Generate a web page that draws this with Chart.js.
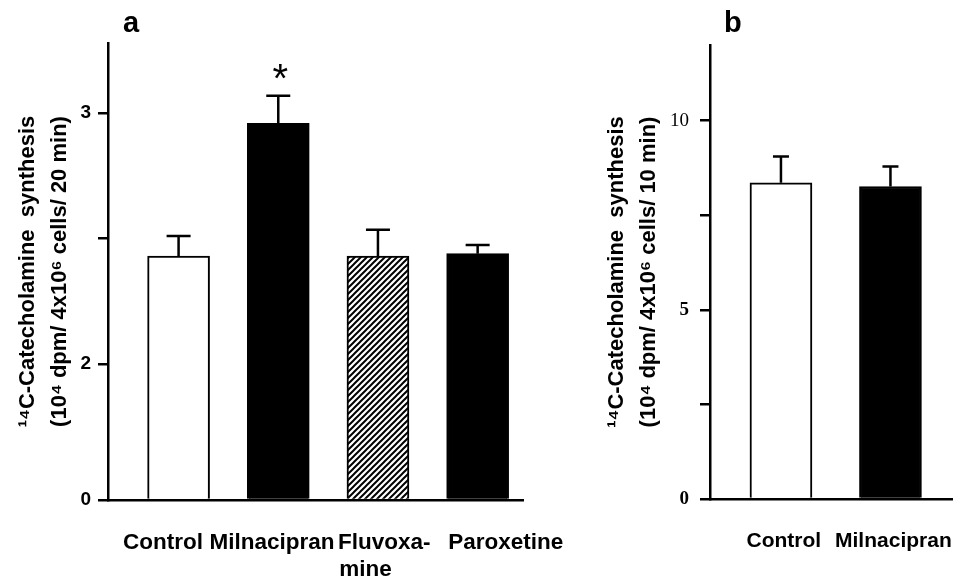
<!DOCTYPE html>
<html>
<head>
<meta charset="utf-8">
<script src="https://cdn.jsdelivr.net/npm/chart.js@4.4.1/dist/chart.umd.min.js"></script>
<style>
  body { margin: 0; background: #fff; width: 974px; height: 582px; overflow: hidden; position: relative;
         font-family: "Liberation Sans", Arial, sans-serif; }
  .box { position: absolute; top: 0; height: 582px; }
  #boxA { left: 0; width: 600px; }
  #boxB { left: 600px; width: 374px; }
  .tag { position: absolute; font-weight: bold; font-size: 29px; line-height: 1; }
</style>
</head>
<body>
<div class="box" id="boxA"><canvas id="chartA"></canvas></div>
<div class="box" id="boxB"><canvas id="chartB"></canvas></div>
<div class="tag" style="left:123px;top:8px">a</div>
<div class="tag" style="left:724px;top:8px">b</div>
<script>
// panel a
const categoriesA = ['Control', 'Milnacipran', ['Fluvoxa-', 'mine'], 'Paroxetine'];
const meansA = [2.43, 2.96, 2.43, 2.44];
const errorTopsA = [2.51, 3.07, 2.535, 2.475];
const significanceA = ['', '*', '', ''];
const yTicksA = [0, 2, 2.5, 3];

// panel b
const categoriesB = ['Control', 'Milnacipran'];
const meansB = [8.36, 8.26];
const errorTopsB = [9.05, 8.79];
const yTicksB = [0, 2.5, 5, 7.5, 10];

// label nudges in spaces (+ = pad left, - = pad right), per line
const nudgeA = [[-5], [-2], [2, -4], [9]];
const nudgeB = [[1], [1]];

Chart.defaults.font.family = '"Liberation Sans", Arial, sans-serif';
Chart.defaults.color = '#000';

// y axis of panel a is broken: 0-2 squeezed into the bottom part
class BrokenScale extends Chart.LinearScale {
  static id = 'broken';
  static defaults = Chart.LinearScale.defaults;
  getPixelForValue(v) {
    if (v === null || isNaN(v)) return NaN;
    const b = this.options.breakAt, f = this.options.breakFrac;
    const d = v <= b ? (v - this.min) / (b - this.min) * f
                     : f + (v - b) / (this.max - b) * (1 - f);
    return this.getPixelForDecimal(d);
  }
  getValueForPixel(p) {
    const b = this.options.breakAt, f = this.options.breakFrac;
    const d = this.getDecimalForPixel(p);
    return d <= f ? this.min + d / f * (b - this.min) : b + (d - f) / (1 - f) * (this.max - b);
  }
}
Chart.register(BrokenScale);

function nudge(label, shifts) {
  const lines = Array.isArray(label) ? label : [label];
  const out = lines.map((t, i) => {
    const n = shifts[i] || 0;
    return n > 0 ? ' '.repeat(n) + t : t + ' '.repeat(-n);
  });
  return out.length === 1 ? out[0] : out;
}

function hatch() {
  const c = document.createElement('canvas');
  c.width = c.height = 6;
  const g = c.getContext('2d');
  g.fillStyle = '#fff';
  g.fillRect(0, 0, 6, 6);
  g.strokeStyle = '#000';
  g.lineWidth = 2;
  g.beginPath();
  g.moveTo(0, 6); g.lineTo(6, 0);
  g.moveTo(-3, 3); g.lineTo(3, -3);
  g.moveTo(3, 9); g.lineTo(9, 3);
  g.stroke();
  return g.createPattern(c, 'repeat');
}

function errorBars(tops, cap, marks) {
  return {
    id: 'errorBars',
    afterDatasetsDraw(chart) {
      const ctx = chart.ctx;
      const y = chart.scales.y;
      ctx.save();
      ctx.strokeStyle = '#000';
      ctx.lineWidth = 2.5;
      chart.getDatasetMeta(0).data.forEach((bar, i) => {
        const top = y.getPixelForValue(tops[i]);
        ctx.beginPath();
        ctx.moveTo(bar.x, bar.y);
        ctx.lineTo(bar.x, top);
        ctx.moveTo(bar.x - cap / 2, top);
        ctx.lineTo(bar.x + cap / 2, top);
        ctx.stroke();
        if (marks && marks[i]) {
          ctx.fillStyle = '#000';
          ctx.font = '40px "Liberation Sans", Arial, sans-serif';
          ctx.textAlign = 'center';
          ctx.textBaseline = 'alphabetic';
          ctx.fillText(marks[i], bar.x + 2, top - 4);
        }
      });
      ctx.restore();
    }
  };
}

const titleFont = { size: 22, weight: 'bold', lineHeight: 1.45 };
const xFit = h => s => { s.height = h; s.paddingLeft = 0; s.paddingRight = 0; };

new Chart(document.getElementById('chartA'), {
  type: 'bar',
  data: {
    datasets: [{
      data: meansA.map((v, i) => ({ x: i, y: v })),
      backgroundColor: ['#fff', '#000', hatch(), '#000'],
      borderColor: '#000',
      borderWidth: 2,
      barThickness: 62
    }]
  },
  options: {
    responsive: true,
    maintainAspectRatio: false,
    animation: false,
    layout: { padding: { top: 43, right: 77, left: 0, bottom: 0 } },
    plugins: { legend: { display: false }, tooltip: { enabled: false } },
    scales: {
      x: {
        type: 'linear', min: -0.708, max: 3.455, offset: false,
        afterBuildTicks: s => { s.ticks = categoriesA.map((_, i) => ({ value: i })); },
        afterFit: xFit(82),
        grid: { display: false, drawTicks: false, offset: false },
        border: { color: '#000', width: 2.5 },
        ticks: { autoSkip: false, maxRotation: 0, padding: 29, color: '#000',
                 font: { size: 22.5, weight: 'bold', lineHeight: 1.2 },
                 callback: v => nudge(categoriesA[v], nudgeA[v]) }
      },
      y: {
        type: 'broken', min: 0, max: 3.28, breakAt: 2, breakFrac: 0.2976,
        afterBuildTicks: s => { s.ticks = yTicksA.map(v => ({ value: v })); },
        afterFit: s => { s.width = 108; },
        grid: { drawOnChartArea: false, drawTicks: true, tickLength: 10, color: '#000', lineWidth: 2.5 },
        border: { color: '#000', width: 2.5 },
        ticks: { autoSkip: false, padding: 7, color: '#000', font: { size: 19, weight: 'bold' },
                 callback: v => (v === 2.5 ? '' : v) },
        title: { display: true, color: '#000', font: titleFont, padding: { top: 12, bottom: 0 },
                 text: ['¹⁴C-Catecholamine  synthesis', '(10⁴ dpm/ 4x10⁶ cells/ 20 min)'] }
      }
    }
  },
  plugins: [errorBars(errorTopsA, 24, significanceA)]
});

new Chart(document.getElementById('chartB'), {
  type: 'bar',
  data: {
    datasets: [{
      data: meansB.map((v, i) => ({ x: i, y: v })),
      backgroundColor: ['#fff', '#000'],
      borderColor: '#000',
      borderWidth: 2,
      barThickness: 62
    }]
  },
  options: {
    responsive: true,
    maintainAspectRatio: false,
    animation: false,
    layout: { padding: { top: 45, right: 22, left: 0, bottom: 0 } },
    plugins: { legend: { display: false }, tooltip: { enabled: false } },
    scales: {
      x: {
        type: 'linear', min: -0.648, max: 1.562, offset: false,
        afterBuildTicks: s => { s.ticks = categoriesB.map((_, i) => ({ value: i })); },
        afterFit: xFit(83),
        grid: { display: false, drawTicks: false, offset: false },
        border: { color: '#000', width: 2.5 },
        ticks: { autoSkip: false, maxRotation: 0, padding: 30, color: '#000',
                 font: { size: 21, weight: 'bold' },
                 callback: v => nudge(categoriesB[v], nudgeB[v]) }
      },
      y: {
        type: 'linear', min: 0, max: 12,
        afterBuildTicks: s => { s.ticks = yTicksB.map(v => ({ value: v })); },
        afterFit: s => { s.width = 110; },
        grid: { drawOnChartArea: false, drawTicks: true, tickLength: 10, color: '#000', lineWidth: 2.5 },
        border: { color: '#000', width: 2.5 },
        ticks: { autoSkip: false, padding: 11, color: '#000',
                 font: c => ({ family: '"Liberation Serif", serif', size: 19,
                               weight: c.tick && c.tick.value === 10 ? 'normal' : 'bold' }),
                 callback: v => (v % 5 === 0 ? v : '') },
        title: { display: true, color: '#000', font: titleFont, padding: { top: 1, bottom: 0 },
                 text: ['¹⁴C-Catecholamine  synthesis', '(10⁴ dpm/ 4x10⁶ cells/ 10 min)'] }
      }
    }
  },
  plugins: [errorBars(errorTopsB, 16, null)]
});
</script>
</body>
</html>
